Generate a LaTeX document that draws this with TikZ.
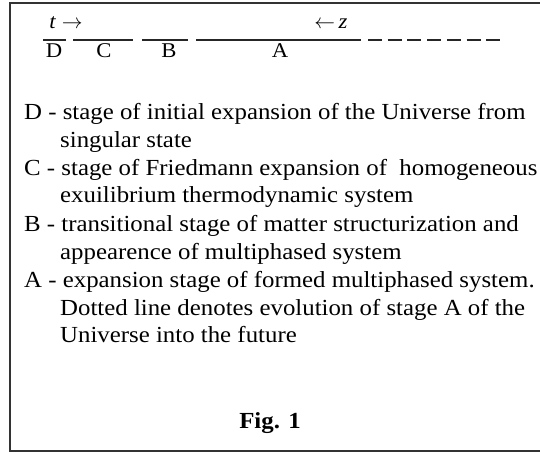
\documentclass[tikz,border=0pt]{standalone}
\usepackage{fontspec}
\setmainfont[FakeStretch=1.08]{Liberation Serif}
\begin{document}
\begin{tikzpicture}[x=1pt,y=-1pt,
  txt/.style={anchor=base west,inner sep=0pt,font=\fontsize{23}{27}\selectfont},
  lbl/.style={anchor=base,inner sep=0pt,font=\fontsize{21}{25}\selectfont},
  seg/.style={line width=2pt,black!85},
  frame/.style={line width=1.5pt,black!80}]
\useasboundingbox (0,0) rectangle (540,454);
% frame (right side is cut off)
\coordinate (fa) at (540,3);
\coordinate (fb) at (10,3);
\coordinate (fc) at (10,451);
\coordinate (fd) at (540,451);
\draw[frame] (fa) -- (fb) -- (fc) -- (fd);
% time axis segments
\coordinate (d1) at (43,40); \coordinate (d2) at (66,40);
\coordinate (c1) at (73,40); \coordinate (c2) at (133,40);
\coordinate (b1) at (142,40); \coordinate (b2) at (188,40);
\coordinate (a1) at (196,40); \coordinate (a2) at (361,40);
\coordinate (f1) at (368,40); \coordinate (f2) at (502,40);
\draw[seg] (d1) -- (d2);
\draw[seg] (c1) -- (c2);
\draw[seg] (b1) -- (b2);
\draw[seg] (a1) -- (a2);
\draw[seg,dash pattern=on 14pt off 5.7pt] (f1) -- (f2);
% labels
\node[lbl] (lt) at (66,29) {\textit{t} $\rightarrow$};
\node[lbl] (lz) at (331,29) {$\leftarrow$\,\textit{z}};
\node[lbl] (lD) at (54,58) {D};
\node[lbl] (lC) at (104,58) {C};
\node[lbl] (lB) at (169,58) {B};
\node[lbl] (lA) at (280,58) {A};
% legend text
\node[txt] (t1) at (24,120) {D - stage of initial expansion of the Universe from};
\node[txt] (t2) at (60,148) {singular state};
\node[txt] (t3) at (24,176) {C - stage of Friedmann expansion of\ \ homogeneous};
\node[txt] (t4) at (60,203) {exuilibrium thermodynamic system};
\node[txt] (t5) at (24,231) {B - transitional stage of matter structurization and};
\node[txt] (t6) at (60,259) {appearence of multiphased system};
\node[txt] (t7) at (24,287) {A - expansion stage of formed multiphased system.};
\node[txt] (t8) at (60,315) {Dotted line denotes evolution of stage A of the};
\node[txt] (t9) at (60,342) {Universe into the future};
\node[anchor=base,inner sep=0pt,font=\fontsize{23}{27}\selectfont\bfseries] (fig) at (270,428) {Fig. 1};
\end{tikzpicture}
\end{document}
